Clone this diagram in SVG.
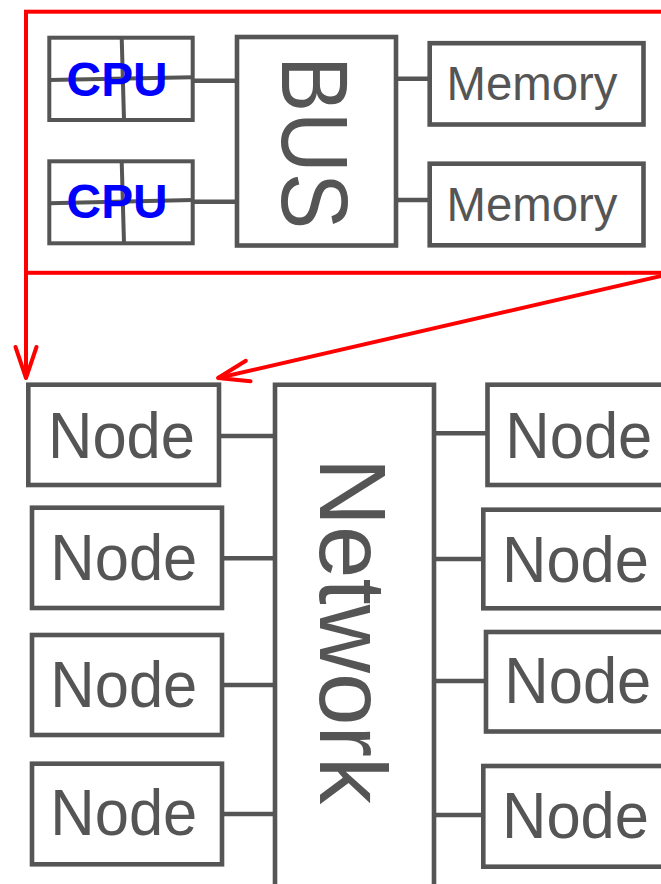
<svg xmlns="http://www.w3.org/2000/svg" width="661" height="884" viewBox="0 0 661 884">
<style>
.box{fill:#fff;stroke:#555;stroke-width:4.6}
.cpu{fill:#fff;stroke:#555;stroke-width:4}
.ln{fill:none;stroke:#555;stroke-width:4.6}
.div{fill:none;stroke:#555;stroke-width:4}
.red{fill:none;stroke:#ff0000;stroke-width:4}
.lbl{font-family:"Liberation Sans",Arial,sans-serif;fill:#555}
.node{font-size:65px}
.mem{font-size:48px}
.big{font-size:95px}
.cput{font-family:"Liberation Sans",Arial,sans-serif;font-weight:bold;font-size:48px;fill:#0000ff}
</style>
<defs>
<marker id="arr" markerUnits="userSpaceOnUse" markerWidth="40" markerHeight="30" viewBox="-36 -15 40 30" refX="0" refY="0" orient="auto" overflow="visible">
<path d="M-31,-10.5 L0,0 L-31,10.5" fill="none" stroke="#ff0000" stroke-width="4" stroke-linecap="round" stroke-linejoin="round"/>
</marker>
</defs>
<rect width="661" height="884" fill="#fff"/>
<g id="cluster">
<rect class="red" x="26" y="11.7" width="700" height="261.1"/>
</g>
<g id="connectors">
<line class="ln" x1="193" y1="80.7" x2="237" y2="80.7"/>
<line class="ln" x1="193" y1="201.7" x2="237" y2="201.7"/>
<line class="ln" x1="394" y1="78.7" x2="430" y2="78.7"/>
<line class="ln" x1="393" y1="200" x2="430" y2="200"/>
<line class="ln" x1="219" y1="436" x2="275" y2="436"/>
<line class="ln" x1="222" y1="558.3" x2="277" y2="558.3"/>
<line class="ln" x1="222" y1="685" x2="277" y2="685"/>
<line class="ln" x1="222" y1="814" x2="277" y2="814"/>
<line class="ln" x1="434" y1="433.3" x2="488" y2="433.3"/>
<line class="ln" x1="432" y1="559" x2="484" y2="559"/>
<line class="ln" x1="434" y1="681" x2="486" y2="681"/>
<line class="ln" x1="432" y1="815" x2="484" y2="815"/>
<path class="red" d="M26,272.8 V378" marker-end="url(#arr)"/>
<path class="red" d="M663,275.5 L218,378" marker-end="url(#arr)"/>
</g>
<g id="cpu1">
<rect class="cpu" x="49.3" y="37.7" width="143.4" height="82.3"/>
<line class="div" x1="121.7" y1="37.7" x2="124" y2="120"/>
<line class="div" x1="49.3" y1="80" x2="192.7" y2="77.3"/>
<text class="cput" x="66.6" y="95.5" textLength="101" lengthAdjust="spacingAndGlyphs">CPU</text>
</g>
<g id="cpu2">
<rect class="cpu" x="49.3" y="161.3" width="143.4" height="82"/>
<line class="div" x1="121.7" y1="161.3" x2="124" y2="243.3"/>
<line class="div" x1="49.3" y1="203.3" x2="192.7" y2="200"/>
<text class="cput" x="66.6" y="218" textLength="101" lengthAdjust="spacingAndGlyphs">CPU</text>
</g>
<g id="bus">
<rect class="box" x="237" y="37" width="159" height="208.5"/>
<text class="lbl big" transform="translate(282,0) rotate(90)" x="56" y="0" textLength="173" lengthAdjust="spacingAndGlyphs">BUS</text>
</g>
<g id="memory1">
<rect class="box" x="429.7" y="43.2" width="213.8" height="81.3"/>
<text class="lbl mem" x="446.5" y="100" textLength="171" lengthAdjust="spacingAndGlyphs">Memory</text>
</g>
<g id="memory2">
<rect class="box" x="429.7" y="163.7" width="213.8" height="81.6"/>
<text class="lbl mem" x="446.5" y="220.7" textLength="171" lengthAdjust="spacingAndGlyphs">Memory</text>
</g>
<g id="network">
<path class="ln" d="M275,890 V384.7 H434 V890"/>
<text class="lbl big" transform="translate(320,0) rotate(90)" x="457.8" y="0" textLength="346.5" lengthAdjust="spacingAndGlyphs">Network</text>
</g>
<g id="nodeL1">
<rect class="box" x="28.3" y="384.7" width="190.7" height="100.3"/>
<text class="lbl node" x="48" y="458.3" textLength="147" lengthAdjust="spacingAndGlyphs">Node</text>
</g>
<g id="nodeL2">
<rect class="box" x="32" y="507.7" width="190" height="100.3"/>
<text class="lbl node" x="50.3" y="580" textLength="147" lengthAdjust="spacingAndGlyphs">Node</text>
</g>
<g id="nodeL3">
<rect class="box" x="32" y="635" width="190" height="100"/>
<text class="lbl node" x="50.3" y="706.7" textLength="147" lengthAdjust="spacingAndGlyphs">Node</text>
</g>
<g id="nodeL4">
<rect class="box" x="32" y="763.7" width="190" height="100.6"/>
<text class="lbl node" x="50.3" y="835" textLength="147" lengthAdjust="spacingAndGlyphs">Node</text>
</g>
<g id="nodeR1">
<rect class="box" x="487.5" y="384.7" width="220" height="100.3"/>
<text class="lbl node" x="505.3" y="458.3" textLength="147" lengthAdjust="spacingAndGlyphs">Node</text>
</g>
<g id="nodeR2">
<rect class="box" x="483.3" y="509.7" width="220" height="98.6"/>
<text class="lbl node" x="502" y="581.7" textLength="147" lengthAdjust="spacingAndGlyphs">Node</text>
</g>
<g id="nodeR3">
<rect class="box" x="486" y="632" width="220" height="99.5"/>
<text class="lbl node" x="504.3" y="703.3" textLength="147" lengthAdjust="spacingAndGlyphs">Node</text>
</g>
<g id="nodeR4">
<rect class="box" x="483.3" y="766" width="220" height="100.7"/>
<text class="lbl node" x="502" y="838.3" textLength="147" lengthAdjust="spacingAndGlyphs">Node</text>
</g>
</svg>
